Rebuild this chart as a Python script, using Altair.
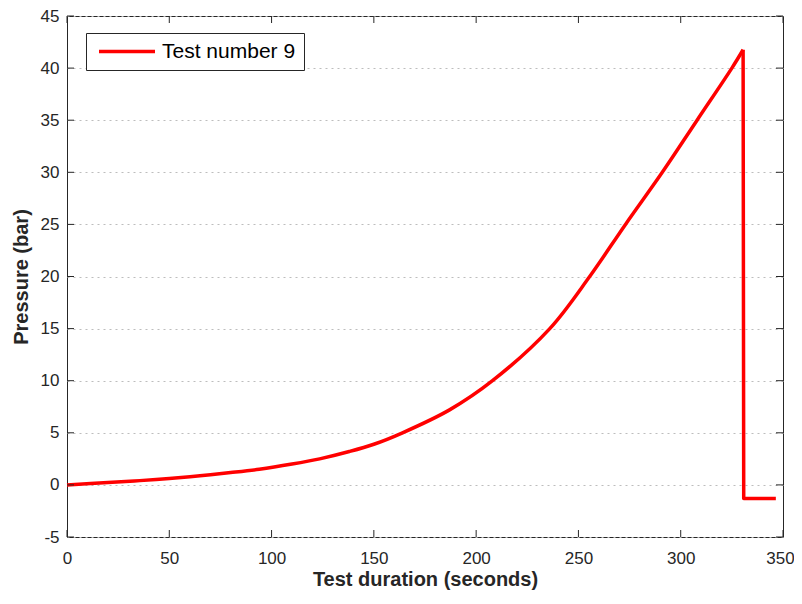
import altair as alt
import pandas as pd

# Test duration (s) and pressure (bar)
rise_time_s = [0, 20, 35.6, 50, 65, 80, 94, 110, 123.5, 138, 150, 164, 187, 208,
               236, 255.5, 273, 291, 308, 325, 330.5]
rise_pressure_bar = [0, 0.22, 0.41, 0.62, 0.88, 1.18, 1.5, 2.0, 2.5, 3.2, 3.9, 5.0, 7.2,
                     10.0, 15.0, 20.0, 25.0, 30.0, 35.0, 40.0, 41.76]
# burst: drop from the peak and flat tail
drop_time_s = [330.5, 330.8, 346.5]
drop_pressure_bar = [41.76, -1.3, -1.3]
series_name = "Test number 9"

x_ticks = [0, 50, 100, 150, 200, 250, 300, 350]
y_ticks = [-5, 0, 5, 10, 15, 20, 25, 30, 35, 40, 45]

W, H = 716, 521
TICK = 7
FONT = "Liberation Sans"
INK = "#262626"

rise = pd.DataFrame({"t": rise_time_s, "p": rise_pressure_bar,
                     "series": [series_name] * len(rise_time_s)})
drop = pd.DataFrame({"t": drop_time_s, "p": drop_pressure_bar,
                     "order": range(len(drop_time_s)),
                     "series": [series_name] * len(drop_time_s)})
xt = pd.DataFrame({"v": x_ticks})
yt = pd.DataFrame({"v": y_ticks})

xscale = alt.Scale(domain=[0, 350], nice=False, zero=False)
yscale = alt.Scale(domain=[-5, 45], nice=False, zero=False)

x_axis = alt.Axis(values=x_ticks, title="Test duration (seconds)", grid=False, ticks=False,
                  domain=False, labelFontSize=17, labelFont=FONT, labelColor=INK,
                  labelPadding=13, titleFontSize=20, titleFont=FONT, titleFontWeight="bold",
                  titleColor=INK, titlePadding=3, labelFlush=False,
                  labelOffset={"condition": {"test": "datum.value == 350", "value": -3},
                               "value": 0},
                  labelExpr="'' + datum.value")
y_axis = alt.Axis(values=y_ticks, title="Pressure (bar)", grid=True, gridColor="#bdbdbd",
                  gridDash=[2, 4], gridWidth=1, ticks=False, domain=False,
                  labelFontSize=17, labelFont=FONT, labelColor=INK, labelPadding=8,
                  titleFontSize=20, titleFont=FONT, titleFontWeight="bold",
                  titleColor=INK, titlePadding=9, labelExpr="'' + datum.value")

color = alt.Color("series:N", scale=alt.Scale(range=["#ff0000"]),
                  legend=alt.Legend(title=None, orient="none", legendX=19, legendY=17,
                                    symbolType="stroke", symbolStrokeWidth=3.5,
                                    symbolSize=3136, clipHeight=21, symbolOffset=3,
                                    labelFontSize=21, labelFont=FONT,
                                    labelColor="black", strokeColor=INK,
                                    fillColor="white", padding=8, labelOffset=5))

rise_line = alt.Chart(rise).mark_line(strokeWidth=3.5, strokeJoin="round",
                                      interpolate="catmull-rom").encode(
    x=alt.X("t:Q", scale=xscale, axis=x_axis),
    y=alt.Y("p:Q", scale=yscale, axis=y_axis),
    color=color,
)
drop_line = alt.Chart(drop).mark_line(strokeWidth=3.5, strokeJoin="round").encode(
    x=alt.X("t:Q", scale=xscale),
    y=alt.Y("p:Q", scale=yscale),
    order="order:Q",
    color=color,
)

rule_kw = dict(color=INK, strokeWidth=1)
bot = alt.Chart(xt).mark_rule(**rule_kw).encode(
    x=alt.X("v:Q", scale=xscale), y=alt.value(H), y2=alt.value(H - TICK))
top = alt.Chart(xt).mark_rule(**rule_kw).encode(
    x=alt.X("v:Q", scale=xscale), y=alt.value(0), y2=alt.value(TICK))
left = alt.Chart(yt).mark_rule(**rule_kw).encode(
    y=alt.Y("v:Q", scale=yscale), x=alt.value(0), x2=alt.value(TICK))
right = alt.Chart(yt).mark_rule(**rule_kw).encode(
    y=alt.Y("v:Q", scale=yscale), x=alt.value(W - TICK), x2=alt.value(W))

chart = alt.layer(rise_line, drop_line, bot, top, left, right).properties(
    width=W, height=H,
    autosize=alt.AutoSizeParams(type="none"),
    padding={"left": 59, "top": 8, "right": 11, "bottom": 60},
    background="white",
).configure_view(stroke=INK, strokeWidth=1)

chart.save("out.html", embed_options={"renderer": "svg", "actions": False})
